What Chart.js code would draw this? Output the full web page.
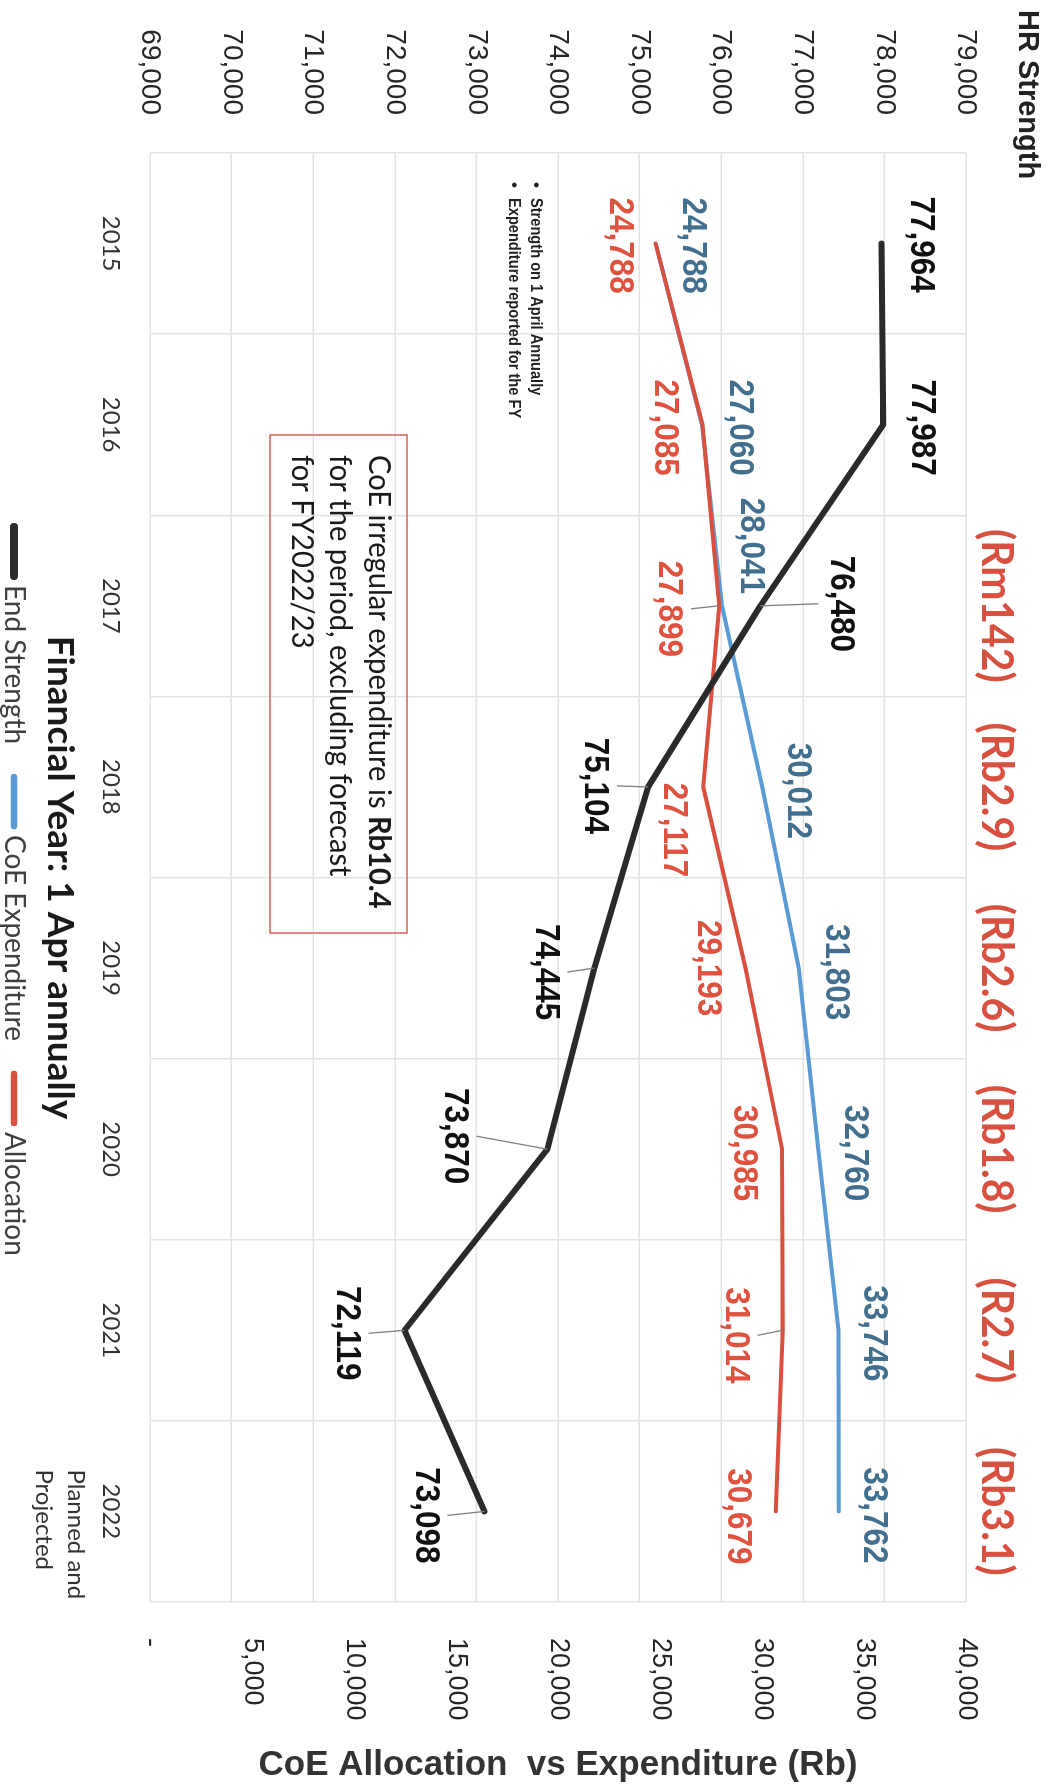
<!DOCTYPE html>
<html>
<head>
<meta charset="utf-8">
<title>HR Strength and CoE Allocation vs Expenditure</title>
<script src="https://cdn.jsdelivr.net/npm/chart.js@4/dist/chart.umd.min.js"></script>
<style>
  html, body { margin: 0; padding: 0; background: #fff; }
  body { width: 1051px; height: 1786px; overflow: hidden; position: relative; }
  /* the chart is laid out landscape and turned a quarter clockwise onto the page */
  #wrap {
    position: absolute; left: 0; top: 0;
    width: 1786px; height: 1051px;
    transform-origin: 0 0;
    transform: translateX(1051px) rotate(90deg);
  }
</style>
</head>
<body>
<div id="wrap"><canvas id="chart" width="1786" height="1051"></canvas></div>
<script>
// ---- data ----
const years = ['2015', '2016', '2017', '2018', '2019', '2020', '2021', '2022'];
const endStrength = [77964, 77987, 76480, 75104, 74445, 73870, 72119, 73098];
const coeExpenditure = [24788, 27060, 28041, 30012, 31803, 32760, 33746, 33762];
const allocation = [24788, 27085, 27899, 27117, 29193, 30985, 31014, 30679];
// shortfall of allocation against expenditure, per year
const gapLabels = [null, null, '(Rm142)', '(Rb2.9)', '(Rb2.6)', '(Rb1.8)', '(R2.7)', '(Rb3.1)'];

const hrAxis = { min: 69000, max: 79000, step: 1000 };
const rbAxis = { min: 0, max: 40000, step: 5000 };

const seriesNames = ['End Strength', 'CoE Expenditure', 'Allocation'];
const lastYearNote = ['Planned and', 'Projected'];
const footNotes = ['Strength on 1 April Annually', 'Expenditure reported for the FY'];
const boxLines = [
  [['CoE irregular expenditure is ', false], ['Rb10.4', true]],
  [['for the period, excluding forecast', false]],
  [['for FY2022/23', false]]
];
const hrTitle = 'HR Strength';
const rbTitle = 'CoE Allocation  vs Expenditure (Rb)';
const xTitle = 'Financial Year: 1 Apr annually';

// ---- styling ----
const COLORS = {
  end: '#2a2a2a', exp: '#5b9bd5', alloc: '#d9503f',
  endLabel: '#111111', expLabel: '#436f8e', allocLabel: '#df523f',
  grid: '#e3e3e3', tick: '#262626', leader: '#808080', gap: '#d8503f'
};
// value-label placement relative to each point: [along x, along y]
const labelOffsets = {
  end:   [[1, -39], [3, -38], [-2, -80], [-1, 53], [4, 49], [-13, 93], [3, 58], [4, 59]],
  exp:   [[2, -37], [3, -38], [-60, -29], [4, -35], [4, -37], [4, -36], [3, -35], [4, -35]],
  alloc: [[2, 36], [3, 38], [3, 50], [43, 30], [0, 38], [4, 38], [5, 47], [5, 38]]
};
const leaders = {
  end:   [false, false, true, true, true, true, true, true],
  exp:   [false, false, false, false, false, false, false, false],
  alloc: [false, false, true, false, false, false, true, false]
};

const LABEL_FONT = 'bold 35px "Liberation Sans", Arial, sans-serif';

function drawText(ctx, str, x, y, o) {
  ctx.save();
  ctx.translate(x, y);
  if (o.rot) ctx.rotate(o.rot);
  ctx.scale(o.sx || 1, 1);
  ctx.font = o.font;
  ctx.fillStyle = o.color;
  ctx.textAlign = o.align || 'left';
  ctx.textBaseline = o.baseline || 'middle';
  ctx.fillText(str, 0, 0);
  const w = ctx.measureText(str).width * (o.sx || 1);
  ctx.restore();
  return w;
}

const annotations = {
  id: 'annotations',
  afterDatasetsDraw(chart) {
    const ctx = chart.ctx;
    const area = chart.chartArea;
    const xs = chart.scales.x;

    // value labels with leader lines
    [['end', 0, COLORS.endLabel], ['exp', 1, COLORS.expLabel], ['alloc', 2, COLORS.allocLabel]].forEach(([key, idx, color]) => {
      const meta = chart.getDatasetMeta(idx);
      const values = chart.data.datasets[idx].data;
      meta.data.forEach((pt, i) => {
        const [dx, dy] = labelOffsets[key][i];
        const lx = pt.x + dx, ly = pt.y + dy;
        if (leaders[key][i]) {
          const endY = ly - Math.sign(dy) * 22;
          ctx.save();
          ctx.strokeStyle = COLORS.leader;
          ctx.lineWidth = 1.3;
          ctx.beginPath();
          ctx.moveTo(pt.x, pt.y);
          ctx.lineTo(lx, endY);
          ctx.stroke();
          ctx.restore();
        }
        drawText(ctx, values[i].toLocaleString('en-US'), lx, ly,
          { font: LABEL_FONT, color, align: 'center', sx: 0.9 });
      });
    });

    // yearly shortfall above the plot
    gapLabels.forEach((g, i) => {
      if (!g) return;
      drawText(ctx, g, xs.getPixelForValue(i), area.top - 30,
        { font: 'bold 43px Lato, sans-serif', color: COLORS.gap, align: 'center', sx: 0.95 });
    });

    // axis titles
    drawText(ctx, hrTitle, 10, 24,
      { font: 'bold 29px "Liberation Sans", Arial, sans-serif', color: '#222', align: 'left' });
    drawText(ctx, rbTitle, 1765, (area.top + area.bottom) / 2,
      { font: 'bold 35px "Liberation Sans", Arial, sans-serif', color: '#333', align: 'center', rot: -Math.PI / 2 });

    // note under the last year
    const lastX = xs.getPixelForValue(years.length - 1) - 42;
    lastYearNote.forEach((t, k) => {
      drawText(ctx, t, lastX, 975 + k * 32, { font: '24px Lato, sans-serif', color: '#333', align: 'left' });
    });

    // footnotes
    footNotes.forEach((t, k) => {
      const y = 515 + k * 22;
      drawText(ctx, '\u2022', 182, y, { font: 'bold 17px "Liberation Sans", Arial, sans-serif', color: '#222', align: 'left' });
      drawText(ctx, t, 198, y, { font: 'bold 17px "Liberation Sans", Arial, sans-serif', color: '#222', align: 'left', sx: 0.86 });
    });

    // boxed remark
    ctx.save();
    ctx.strokeStyle = '#d66a5c';
    ctx.lineWidth = 1.6;
    ctx.strokeRect(435, 644, 498, 137);
    ctx.restore();
    boxLines.forEach((runs, k) => {
      let x = 455;
      const y = 672 + k * 38.5;
      runs.forEach(([t, bold]) => {
        x += drawText(ctx, t, x, y, {
          font: (bold ? 'bold ' : '') + '31px Lato, sans-serif', color: '#1a1a1a', align: 'left', sx: 0.94
        });
      });
    });

    // legend
    let lx = 524;
    const ly = 1037;
    chart.data.datasets.forEach((ds, i) => {
      ctx.save();
      ctx.strokeStyle = ds.borderColor;
      ctx.lineWidth = i === 0 ? 8 : 6.5;
      ctx.lineCap = 'round';
      ctx.beginPath();
      ctx.moveTo(lx + 3, ly);
      ctx.lineTo(lx + 52, ly);
      ctx.stroke();
      ctx.restore();
      lx += 61;
      lx += drawText(ctx, ds.label, lx, ly, { font: '28px Lato, sans-serif', color: '#404040', align: 'left' });
      lx += 30;
    });
  }
};

const lineCommon = { pointRadius: 0, pointHoverRadius: 0, tension: 0, borderJoinStyle: 'round', borderCapStyle: 'round', fill: false };

new Chart(document.getElementById('chart'), {
  type: 'line',
  data: {
    labels: years,
    datasets: [
      Object.assign({ label: seriesNames[0], data: endStrength, yAxisID: 'yHR', borderColor: COLORS.end, borderWidth: 6, order: 0 }, lineCommon),
      Object.assign({ label: seriesNames[1], data: coeExpenditure, yAxisID: 'yRb', borderColor: COLORS.exp, borderWidth: 4, order: 2 }, lineCommon),
      Object.assign({ label: seriesNames[2], data: allocation, yAxisID: 'yRb', borderColor: COLORS.alloc, borderWidth: 4, order: 1 }, lineCommon)
    ]
  },
  options: {
    responsive: false,
    devicePixelRatio: 1,
    animation: false,
    layout: { padding: { top: 85, left: 0, right: 0, bottom: 0 } },
    plugins: { legend: { display: false }, tooltip: { enabled: false } },
    scales: {
      x: {
        type: 'category',
        offset: true,
        grid: { offset: true, color: COLORS.grid, lineWidth: 1.5, drawTicks: false },
        border: { display: false },
        ticks: { font: { family: 'Lato', size: 24 }, color: '#333', padding: 25, maxRotation: 0, autoSkip: false },
        title: { display: true, text: xTitle, font: { family: 'Lato', size: 37, weight: 'bold' }, color: '#1a1a1a', padding: { top: 0, bottom: 38 } },
        afterFit(s) { s.height = 150; }
      },
      yHR: {
        position: 'left',
        min: hrAxis.min, max: hrAxis.max,
        grid: { color: COLORS.grid, lineWidth: 1.5, drawTicks: false },
        border: { display: false },
        ticks: {
          stepSize: hrAxis.step, padding: 38, color: COLORS.tick,
          font: { family: 'Liberation Sans', size: 28 },
          callback: v => v.toLocaleString('en-US')
        },
        afterFit(s) { s.width = 153; }
      },
      yRb: {
        position: 'right',
        min: rbAxis.min, max: rbAxis.max,
        grid: { display: false, drawTicks: false },
        border: { display: false },
        ticks: {
          stepSize: rbAxis.step, padding: 36, color: COLORS.tick,
          font: { family: 'Liberation Sans', size: 27 },
          callback: v => v === 0 ? '-' : v.toLocaleString('en-US')
        },
        afterFit(s) { s.width = 184; }
      }
    }
  },
  plugins: [annotations]
});
</script>
</body>
</html>
